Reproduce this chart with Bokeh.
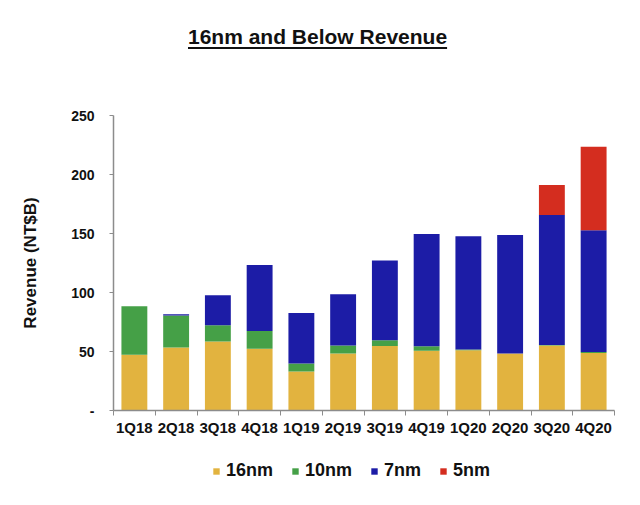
from bokeh.plotting import figure
from bokeh.models import (ColumnDataSource, Range1d, FixedTicker, LinearAxis,
                          Legend, LegendItem, Div)
from bokeh.layouts import column
from bokeh.embed import file_html
from bokeh.resources import INLINE

title_text = "16nm and Below Revenue"
quarters = ["1Q18", "2Q18", "3Q18", "4Q18", "1Q19", "2Q19", "3Q19", "4Q19",
            "1Q20", "2Q20", "3Q20", "4Q20"]
nm16 = [47.3, 53.3, 58.4, 52.4, 33.1, 48.4, 54.7, 50.7, 51.0, 48.4, 55.0, 48.7]
nm10 = [41.1, 27.2, 13.8, 15.0, 6.8, 6.6, 4.8, 3.7, 0.6, 0.0, 0.5, 0.9]
nm7 = [0.0, 1.1, 25.5, 55.8, 42.8, 43.6, 67.7, 95.2, 96.0, 100.3, 110.2, 103.1]
nm5 = [0.0, 0.0, 0.0, 0.0, 0.0, 0.0, 0.0, 0.0, 0.0, 0.0, 25.5, 70.8]
series = ["16nm", "10nm", "7nm", "5nm"]
y_ticks = [0, 50, 100, 150, 200, 250]

colors = ["#E2B33F", "#45A047", "#1C1CA6", "#D42D1F"]
FONT = "Liberation Sans"

pos = [i + 0.5 for i in range(len(quarters))]
bounds = [float(i) for i in range(len(quarters) + 1)]
data = {"16nm": nm16, "10nm": nm10, "7nm": nm7, "5nm": nm5}
src = ColumnDataSource(dict(x=pos, **data))

title_div = Div(
    text=('<div style="font-family:\'Liberation Sans\';font-weight:bold;font-size:21px;'
          'color:#111111;text-decoration:underline;text-decoration-thickness:2px;'
          'text-underline-offset:3px;padding-left:188px;padding-top:25px;'
          'line-height:24px;white-space:nowrap;">' + title_text + '</div>'),
    width=624, height=60, margin=0)

p = figure(width=624, height=385, frame_width=501, frame_height=295,
           output_backend="svg", toolbar_location=None,
           x_range=Range1d(0, len(quarters)), y_range=Range1d(0, 250),
           x_axis_type=None, min_border_left=113, min_border_right=10,
           min_border_top=55, min_border_bottom=35)
p.outline_line_color = None
p.xgrid.grid_line_color = None
p.ygrid.grid_line_color = None
p.background_fill_color = "white"
p.border_fill_color = "white"

rs = p.vbar_stack(series, x="x", width=0.62, source=src, color=colors, line_color=None)

# x axis with boundary ticks
xa = LinearAxis(ticker=FixedTicker(ticks=pos, minor_ticks=bounds))
xa.major_label_overrides = {x: q for x, q in zip(pos, quarters)}
xa.major_tick_out = 0
xa.major_tick_in = 0
xa.minor_tick_out = 5
xa.minor_tick_in = 0
xa.minor_tick_line_color = "#8c8c8c"
xa.axis_line_color = "#8c8c8c"
xa.axis_line_width = 1.5
xa.major_label_text_font = FONT
xa.major_label_text_font_style = "bold"
xa.major_label_text_font_size = "15px"
xa.major_label_text_color = "#111111"
xa.major_label_standoff = 3
p.add_layout(xa, "below")

ya = p.yaxis[0]
ya.ticker = FixedTicker(ticks=y_ticks)
ya.major_label_overrides = {0: "-"}
ya.minor_tick_line_color = None
ya.major_tick_out = 4
ya.major_tick_in = 0
ya.major_tick_line_color = "#8c8c8c"
ya.axis_line_color = "#8c8c8c"
ya.axis_line_width = 1.5
ya.major_label_text_font = FONT
ya.major_label_text_font_style = "bold"
ya.major_label_text_font_size = "14px"
ya.major_label_text_color = "#111111"
ya.major_label_standoff = 15
ya.axis_label = "Revenue (NT$B)"
ya.axis_label_text_font = FONT
ya.axis_label_text_font_style = "bold"
ya.axis_label_text_font_size = "17px"
ya.axis_label_text_color = "#111111"
ya.axis_label_standoff = 28

# legend strip below the chart (its proxy bars lie outside the strip's visible range)
lp = figure(width=624, height=44, frame_width=624, frame_height=44,
            output_backend="svg", toolbar_location=None,
            x_range=Range1d(0, 1), y_range=Range1d(0, 1),
            x_axis_type=None, y_axis_type=None,
            min_border_left=0, min_border_right=0, min_border_top=0, min_border_bottom=0)
lp.outline_line_color = None
lp.xgrid.grid_line_color = None
lp.ygrid.grid_line_color = None
lp.border_fill_color = "white"
items = []
for s, c in zip(series, colors):
    r = lp.vbar(x="x", top="top", width=0.62,
                source=ColumnDataSource(dict(x=[pos[-1]], top=[data[s][-1]])),
                color=c, line_color=None)
    items.append(LegendItem(label=s, renderers=[r]))

legend = Legend(items=items, orientation="horizontal", location=(212, 8))
legend.glyph_width = 8
legend.glyph_height = 8
legend.label_standoff = 6
legend.spacing = 18
legend.label_text_font = FONT
legend.label_text_font_style = "bold"
legend.label_text_font_size = "18px"
legend.label_text_color = "#111111"
legend.border_line_color = None
legend.background_fill_alpha = 0
legend.padding = 2
legend.margin = 0
lp.add_layout(legend)

layout = column(title_div, p, lp, spacing=0)
open("out.html", "w").write(file_html(layout, INLINE))
